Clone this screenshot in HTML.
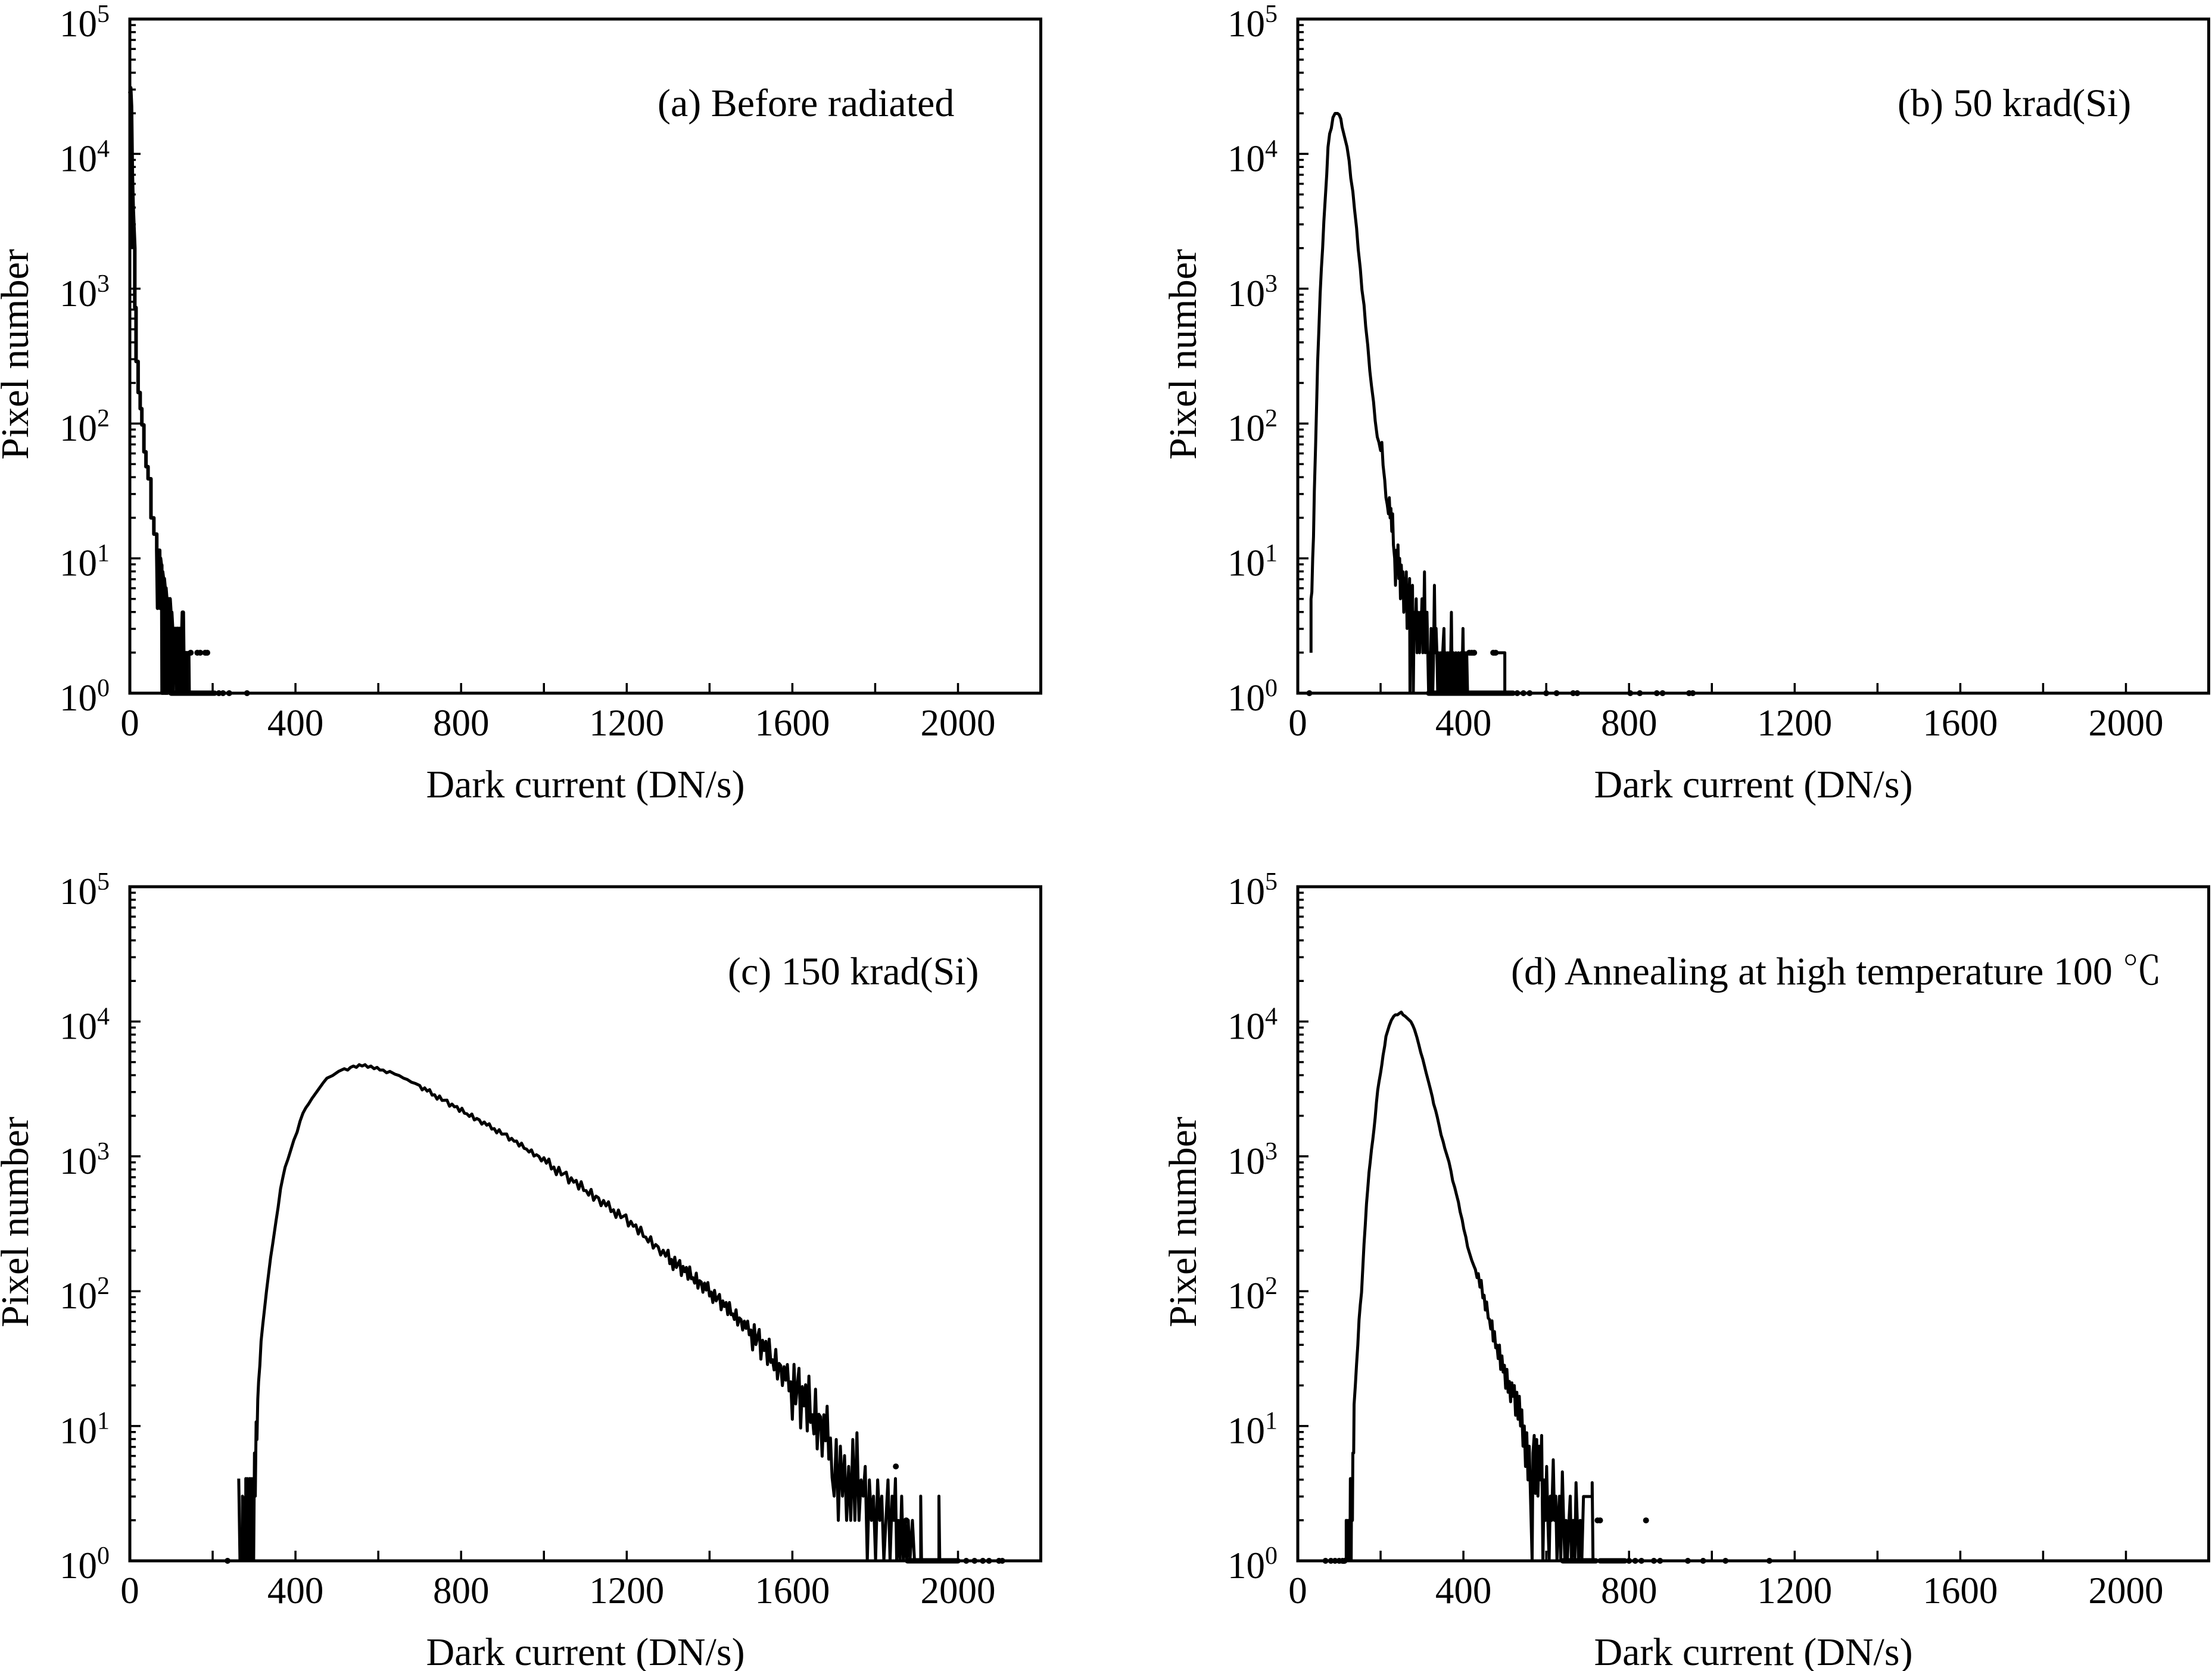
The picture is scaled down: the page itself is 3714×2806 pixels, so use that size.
<!DOCTYPE html>
<html>
<head>
<meta charset="utf-8">
<style>
html,body{margin:0;padding:0;background:#fff;}
svg{display:block;}
text{font-family:"Liberation Serif","Noto Serif CJK SC",serif;fill:#000;}
.d path{vector-effect:non-scaling-stroke;fill:none;stroke:#000;stroke-width:5;stroke-linejoin:round;stroke-linecap:butt;}
.d path.thk{stroke-width:6;}
.d path.fl{fill:#000;stroke-width:2;}
.d path.dt{stroke-width:10;stroke-linecap:round;}
.d path.bl{stroke-width:9;stroke-linecap:round;}
</style>
</head>
<body>
<svg width="3714" height="2806" viewBox="0 0 3714 2806" xmlns="http://www.w3.org/2000/svg">
<rect width="3714" height="2806" fill="#fff"/>
<defs>
<g id="dec" stroke="#000" stroke-width="3.5">
<line x1="0" x2="18" y1="0" y2="0"/>
<line x1="0" x2="10" y1="-68.15" y2="-68.15"/>
<line x1="0" x2="10" y1="-108.02" y2="-108.02"/>
<line x1="0" x2="10" y1="-136.31" y2="-136.31"/>
<line x1="0" x2="10" y1="-158.25" y2="-158.25"/>
<line x1="0" x2="10" y1="-176.17" y2="-176.17"/>
<line x1="0" x2="10" y1="-191.33" y2="-191.33"/>
<line x1="0" x2="10" y1="-204.46" y2="-204.46"/>
<line x1="0" x2="10" y1="-216.30" y2="-216.30"/>
</g>
<g id="ax">
<use href="#dec"/>
<use href="#dec" y="-226.4"/>
<use href="#dec" y="-452.8"/>
<use href="#dec" y="-679.2"/>
<use href="#dec" y="-905.6"/>
<path d="M139.05,0V-17M278.1,0V-17M417.15,0V-17M556.2,0V-17M695.25,0V-17M834.3,0V-17M973.35,0V-17M1112.4,0V-17M1251.45,0V-17M1390.5,0V-17" stroke="#000" stroke-width="3.5" fill="none"/>
<rect x="0" y="-1132" width="1529.5" height="1132" fill="none" stroke="#000" stroke-width="5"/>
</g>
</defs>

<!-- ============ Panel a ============ -->
<g class="d" transform="translate(218,1164) scale(0.69523,-226.4)">
<path class="fl" d="M0,4.45 L2,4.49 L4,4.35 L5,4.1 L6,3.85 L8,3.6 L10,3.45 L10,3.3 L0,3.3 Z"/>
<path class="thk" d="M0,4.45 L2,4.49 L4,4.35 L5,4.1 L6,3.85 L8,3.6 L10,3.45 L12,3.3 L12,2.86 L15,2.86 L15,2.46 L20,2.46 L20,2.23 L25,2.23 L25,2.11 L29,2.11 L29,1.99 L34,1.99 L34,1.79 L39,1.79 L39,1.68 L44,1.68 L44,1.59 L51,1.59 L51,1.30 L58,1.30 L58,1.18 L65,1.18 L65,1.06 L67,0.63 L68,1.06 L72,1.06 L73,0.63 L74,1.0 L76,0.95 L77,0.95 L78,0 L79,0.9 L81,0.85 L82,0 L83,0.85 L85,0.78 L86,0 L87,0.78 L89,0.7 L90,0 L91,0.7 L93,0.7 L95,0.6 L96,0 L97,0.7 L99,0.6 L100,0 L101,0.6 L103,0.48 L104,0 L105,0.48 L107,0.48 L108,0.3 L110,0.48 L112,0.3 L113,0 L114,0.48 L116,0.48 L117,0 L118,0.3 L120,0.48 L121,0 L122,0.3 L124,0.3 L125,0 L126,0.48 L127,0.6 L129,0.6 L130,0.3 L132,0.3 L133,0 L135,0.3 L137,0.3 L138,0 L140,0.3 L142,0.3 L143,0"/>
<path class="dt" d="M147,0.3h0.01 M163,0.3h0.01 M170,0.3h0.01 M182,0.3h0.01 M187,0.3h0.01"/>
<path class="bl" d="M100,0 L205,0"/>
<path class="dt" d="M215,0h0.01 M225,0h0.01 M240,0h0.01 M283,0h0.01"/>
</g>
<use href="#ax" x="218" y="1164"/>

<!-- ============ Panel b ============ -->
<g class="d" transform="translate(2179,1164) scale(0.69523,-226.4)">
<path d="M32,0.3 L32,0.7 L34,0.75 L36,1.0 L38,1.16 L40,1.5 L43,1.83 L46,2.2 L48,2.46 L51,2.7 L54,2.96 L57,3.15 L60,3.3 L63,3.5 L66,3.65 L70,3.85 L73,4.05 L77,4.15 L81,4.19 L85,4.27 L90,4.30 L96,4.30 L100,4.29 L104,4.26 L107,4.2 L111,4.15 L115,4.1 L119,4.05 L124,3.95 L128,3.82 L133,3.72 L137,3.59 L142,3.45 L146,3.29 L151,3.15 L155,2.99 L160,2.88 L164,2.72 L169,2.58 L174,2.39 L178,2.28 L183,2.16 L187,2.02 L192,1.90 L196,1.86 L200,1.80 L203,1.86 L206,1.69 L210,1.58 L213,1.45 L216,1.40 L219,1.33 L221,1.45 L223,1.30 L225,1.37 L227,1.20 L229,1.33 L231,1.1 L234,1.0 L236,0.8 L238,1.06 L240,0.9 L242,1.1 L244,0.85 L246,1.0 L248,0.7 L250,0.95 L252,0.8 L254,0.9 L256,0.6 L258,0.85 L260,0.7 L262,0.9 L264,0.48 L266,0.8 L268,0.6 L270,0.85 L271,0 L272,0.7 L275,0.48 L277,0.8 L279,0 L281,0.6 L284,0.48 L286,0.7 L288,0.3 L290,0.6 L292,0.48 L294,0.3 L296,0.6 L298,0.48 L300,0.7 L302,0.3 L304,0.48 L306,0.9 L308,0.3 L310,0.48 L312,0.6 L314,0.3 L316,0 L318,0.3 L320,0 L322,0.48 L324,0.3 L326,0 L328,0.3 L330,0.8 L332,0.3 L334,0.48 L336,0.3 L338,0 L340,0.3 L342,0 L345,0.3 L348,0 L350,0.3 L353,0.48 L355,0 L357,0.3 L360,0 L362,0.3 L364,0 L366,0.3 L368,0 L371,0.6 L373,0 L376,0.3 L378,0 L382,0.3 L384,0 L388,0.3 L390,0 L394,0.3 L396,0 L399,0.48 L401,0 L404,0.3 L406,0 L408,0.3 L410,0"/>
<path d="M480,0.3 L500,0.3 L500,0"/>
<path class="dt" d="M414,0.3h0.01 M420,0.3h0.01 M426,0.3h0.01 M472,0.3h0.01 M478,0.3h0.01"/>
<path class="bl" d="M316,0 L520,0"/>
<path class="dt" d="M28,0h0.01 M530,0h0.01 M545,0h0.01 M560,0h0.01 M600,0h0.01 M625,0h0.01 M665,0h0.01 M675,0h0.01 M803,0h0.01 M826,0h0.01 M867,0h0.01 M881,0h0.01 M945,0h0.01 M954,0h0.01"/>
</g>
<use href="#ax" x="2179" y="1164"/>

<!-- ============ Panel c ============ -->
<g class="d" transform="translate(218,2621) scale(0.69523,-226.4)">
<path d="M263,0.61 L266,0 M272,0 L272,0.48 L274,0 M277,0.48 L277,0 M280,0 L280,0.61 L282,0 L284,0.61 L286,0 M289,0 L289,0.61 L291,0 L293,0.61 L295,0"/>
<path d="M295,0 L297,0.61 L299,0 L301,0.8 L303,0.48 L305,1.03 L307,0.9 L309,1.2 L311,1.33 L314,1.45 L317,1.63 L321,1.75 L325,1.86 L330,2.0 L336,2.15 L340,2.25 L345,2.35 L353,2.52 L358,2.62 L364,2.76 L370,2.85 L375,2.92 L382,2.98 L389,3.05 L396,3.12 L404,3.18 L411,3.26 L418,3.32 L425,3.36 L432,3.39 L440,3.43 L447,3.46 L454,3.49 L461,3.52 L468,3.55 L476,3.58 L490,3.60 L504,3.63 L518,3.65 L526,3.64 L533,3.66 L540,3.67 L547,3.66 L554,3.68 L561,3.67 L568,3.68 L575,3.66 L582,3.67 L590,3.65 L597,3.66 L604,3.64 L612,3.64 L620,3.62 L628,3.63 L640,3.61 L650,3.60 L661,3.58 L670,3.57 L680,3.55 L690,3.54 L700,3.526 L706,3.493 L712,3.508 L718,3.484 L724,3.495 L730,3.454 L736,3.457 L742,3.424 L748,3.448 L754,3.415 L760,3.416 L766,3.417 L772,3.372 L778,3.388 L784,3.367 L790,3.370 L796,3.333 L802,3.357 L808,3.320 L814,3.316 L820,3.296 L826,3.314 L832,3.270 L838,3.281 L844,3.271 L850,3.239 L856,3.255 L862,3.231 L868,3.242 L874,3.202 L880,3.206 L886,3.174 L892,3.198 L898,3.165 L904,3.166 L910,3.166 L916,3.120 L922,3.134 L928,3.112 L934,3.114 L940,3.076 L946,3.098 L952,3.060 L958,3.054 L964,3.032 L970,3.048 L976,3.002 L982,3.012 L988,3.000 L994,2.966 L1000,2.99 L1006,2.949 L1012,2.980 L1018,2.906 L1024,2.921 L1030,2.864 L1036,2.919 L1042,2.862 L1048,2.872 L1054,2.883 L1060,2.802 L1066,2.841 L1072,2.808 L1078,2.822 L1084,2.757 L1090,2.812 L1096,2.747 L1102,2.746 L1108,2.712 L1114,2.755 L1120,2.674 L1126,2.705 L1132,2.692 L1138,2.634 L1144,2.673 L1150,2.632 L1156,2.663 L1162,2.590 L1168,2.604 L1174,2.547 L1180,2.602 L1186,2.545 L1192,2.556 L1198,2.566 L1204,2.483 L1210,2.518 L1216,2.481 L1222,2.492 L1228,2.424 L1234,2.475 L1240,2.406 L1246,2.401 L1252,2.364 L1258,2.404 L1264,2.319 L1270,2.346 L1276,2.329 L1282,2.268 L1288,2.304 L1294,2.259 L1300,2.304 L1304,2.204 L1308,2.236 L1312,2.160 L1316,2.252 L1320,2.176 L1324,2.202 L1328,2.228 L1332,2.116 L1336,2.184 L1340,2.144 L1344,2.176 L1348,2.088 L1352,2.180 L1356,2.092 L1360,2.100 L1364,2.060 L1368,2.134 L1372,2.022 L1376,2.078 L1380,2.068 L1384,1.992 L1388,2.060 L1392,2.008 L1396,2.064 L1400,1.964 L1404,1.994 L1408,1.916 L1412,2.006 L1416,1.928 L1420,1.952 L1424,1.976 L1428,1.862 L1432,1.928 L1436,1.886 L1440,1.916 L1444,1.826 L1448,1.916 L1452,1.826 L1456,1.832 L1460,1.790 L1464,1.862 L1468,1.748 L1472,1.802 L1476,1.790 L1480,1.712 L1484,1.778 L1488,1.724 L1492,1.778 L1496,1.676 L1500,1.712 L1504,1.564 L1508,1.752 L1512,1.604 L1516,1.660 L1520,1.716 L1524,1.496 L1528,1.636 L1532,1.560 L1536,1.628 L1540,1.456 L1544,1.644 L1548,1.472 L1552,1.492 L1556,1.416 L1560,1.568 L1564,1.348 L1568,1.464 L1572,1.448 L1576,1.300 L1580,1.440 L1584,1.340 L1588,1.456 L1592,1.260 L1596,1.328 L1600,1.05 L1604,1.457 L1608,1.164 L1612,1.296 L1616,1.428 L1620,0.985 L1624,1.292 L1628,1.149 L1632,1.306 L1636,0.963 L1640,1.370 L1644,1.027 L1648,1.084 L1652,0.941 L1656,1.273 L1660,0.830 L1664,1.087 L1668,1.069 L1672,0.776 L1676,1.083 L1680,0.890 L1684,1.147 L1688,0.754 L1692,0.911 L1696,0.618 L1701,0.48 L1706,0.9 L1711,0.3 L1716,0.85 L1721,0.48 L1726,0.78 L1731,0.3 L1736,0.7 L1741,0.3 L1746,0.9 L1751,0.3 L1756,0.95 L1761,0.3 L1766,0.6 L1771,0.48 L1776,0.7 L1781,0 L1786,0.6 L1791,0.3 L1796,0.48 L1801,0 L1806,0.6 L1811,0.3 L1816,0.48 L1821,0 L1826,0.3 L1831,0.6 L1836,0 L1841,0.48 L1845,0.3 L1849,0.61 L1852,0 L1856,0.3 L1860,0 L1864,0.48 L1868,0 L1872,0.3 L1876,0 L1880,0.3 L1884,0 L1890,0.3 L1895,0"/>
<path d="M1910,0 L1910,0.48 L1912,0 M1954,0 L1954,0.48 L1956,0"/>
<path class="dt" d="M1850,0.70h0.01 M1875,0.3h0.01"/>
<path class="bl" d="M1878,0 L2000,0"/>
<path class="dt" d="M236,0h0.01 M2020,0h0.01 M2040,0h0.01 M2060,0h0.01 M2075,0h0.01 M2099,0h0.01 M2107,0h0.01"/>
</g>
<use href="#ax" x="218" y="2621"/>

<!-- ============ Panel d ============ -->
<g class="d" transform="translate(2179,2621) scale(0.69523,-226.4)">
<path d="M117,0 L117,0.3 L119,0 L121,0.3 L123,0 L124,0.3 L126,0 L127,0.61 L129,0 L130,0.61 L132,0.3 L133,0.8 L135,0.8 L136,1.16 L139,1.3 L142,1.46 L145,1.6 L148,1.79 L151,1.9 L154,1.99 L158,2.23 L160,2.35 L163,2.49 L166,2.65 L169,2.76 L172,2.88 L175,2.96 L178,3.05 L181,3.12 L184,3.2 L187,3.29 L190,3.4 L193,3.49 L196,3.55 L200,3.62 L203,3.68 L206,3.75 L210,3.82 L213,3.89 L217,3.93 L221,3.97 L226,4.01 L232,4.04 L236,4.05 L241,4.05 L245,4.06 L250,4.07 L254,4.05 L259,4.04 L266,4.02 L273,4.0 L278,3.97 L282,3.94 L288,3.88 L293,3.82 L297,3.77 L302,3.72 L306,3.67 L310,3.62 L316,3.55 L321,3.49 L325,3.44 L328,3.39 L333,3.34 L337,3.29 L342,3.22 L346,3.16 L351,3.11 L355,3.06 L360,3.01 L365,2.96 L370,2.89 L374,2.82 L379,2.77 L383,2.72 L388,2.66 L392,2.59 L397,2.53 L401,2.46 L406,2.40 L410,2.33 L415,2.28 L420,2.23 L425,2.19 L429,2.16 L433,2.10 L436,2.13 L440,2.03 L443,2.08 L447,1.95 L450,1.97 L453,1.86 L456,1.92 L460,1.80 L463,1.79 L466,1.72 L469,1.78 L472,1.63 L475,1.70 L478,1.58 L481,1.60 L484,1.50 L487,1.60 L490,1.42 L493,1.52 L496,1.40 L499,1.45 L502,1.28 L505,1.42 L508,1.25 L511,1.33 L514,1.18 L517,1.32 L520,1.22 L523,1.30 L526,1.08 L529,1.25 L532,1.05 L535,1.22 L538,1.0 L541,1.12 L544,0.85 L547,1.0 L550,0.7 L553,0.95 L556,0.6 L559,0.85 L562,0.48 L566,0 L568,0.8 L571,0.93 L574,0.5 L577,0.9 L580,0.48 L583,0.85 L586,0.6 L589,0.93 L592,0 L595,0.6 L598,0.3 L601,0.7 L604,0.3 L607,0 L610,0.48 L613,0.3 L617,0.75 L620,0.3 L623,0.48 L626,0 L629,0.3 L632,0.48 L635,0 L639,0.66 L642,0.3 L645,0 L648,0.3 L651,0 L655,0.3 L658,0.48 L661,0 L665,0.3 L669,0 L672,0.58 L675,0.3 L678,0 L682,0.3 L686,0 L690,0.477 L711,0.477 L711,0.58 L713,0 L716,0"/>
<path class="dt" d="M724,0.3h0.01 M730,0.3h0.01 M841,0.3h0.01"/>
<path class="bl" d="M640,0 L720,0 M730,0 L790,0"/>
<path class="dt" d="M67,0h0.01 M80,0h0.01 M90,0h0.01 M100,0h0.01 M108,0h0.01 M113,0h0.01 M800,0h0.01 M815,0h0.01 M830,0h0.01 M860,0h0.01 M875,0h0.01 M942,0h0.01 M979,0h0.01 M1033,0h0.01 M1139,0h0.01"/>
</g>
<use href="#ax" x="2179" y="2621"/>

<!-- ============ Tick labels ============ -->
<g font-size="63" text-anchor="middle">
<text x="218" y="1235">0</text><text x="496.1" y="1235">400</text><text x="774.2" y="1235">800</text><text x="1052.3" y="1235">1200</text><text x="1330.4" y="1235">1600</text><text x="1608.5" y="1235">2000</text>
<text x="2179" y="1235">0</text><text x="2457.1" y="1235">400</text><text x="2735.2" y="1235">800</text><text x="3013.3" y="1235">1200</text><text x="3291.4" y="1235">1600</text><text x="3569.5" y="1235">2000</text>
<text x="218" y="2692">0</text><text x="496.1" y="2692">400</text><text x="774.2" y="2692">800</text><text x="1052.3" y="2692">1200</text><text x="1330.4" y="2692">1600</text><text x="1608.5" y="2692">2000</text>
<text x="2179" y="2692">0</text><text x="2457.1" y="2692">400</text><text x="2735.2" y="2692">800</text><text x="3013.3" y="2692">1200</text><text x="3291.4" y="2692">1600</text><text x="3569.5" y="2692">2000</text>
</g>
<g font-size="63">
<text x="100" y="1193">10<tspan font-size="42" dy="-24">0</tspan></text>
<text x="100" y="966.6">10<tspan font-size="42" dy="-24">1</tspan></text>
<text x="100" y="740.2">10<tspan font-size="42" dy="-24">2</tspan></text>
<text x="100" y="513.8">10<tspan font-size="42" dy="-24">3</tspan></text>
<text x="100" y="287.4">10<tspan font-size="42" dy="-24">4</tspan></text>
<text x="100" y="61">10<tspan font-size="42" dy="-24">5</tspan></text>
<text x="2061" y="1193">10<tspan font-size="42" dy="-24">0</tspan></text>
<text x="2061" y="966.6">10<tspan font-size="42" dy="-24">1</tspan></text>
<text x="2061" y="740.2">10<tspan font-size="42" dy="-24">2</tspan></text>
<text x="2061" y="513.8">10<tspan font-size="42" dy="-24">3</tspan></text>
<text x="2061" y="287.4">10<tspan font-size="42" dy="-24">4</tspan></text>
<text x="2061" y="61">10<tspan font-size="42" dy="-24">5</tspan></text>
<text x="100" y="2650">10<tspan font-size="42" dy="-24">0</tspan></text>
<text x="100" y="2423.6">10<tspan font-size="42" dy="-24">1</tspan></text>
<text x="100" y="2197.2">10<tspan font-size="42" dy="-24">2</tspan></text>
<text x="100" y="1970.8">10<tspan font-size="42" dy="-24">3</tspan></text>
<text x="100" y="1744.4">10<tspan font-size="42" dy="-24">4</tspan></text>
<text x="100" y="1518">10<tspan font-size="42" dy="-24">5</tspan></text>
<text x="2061" y="2650">10<tspan font-size="42" dy="-24">0</tspan></text>
<text x="2061" y="2423.6">10<tspan font-size="42" dy="-24">1</tspan></text>
<text x="2061" y="2197.2">10<tspan font-size="42" dy="-24">2</tspan></text>
<text x="2061" y="1970.8">10<tspan font-size="42" dy="-24">3</tspan></text>
<text x="2061" y="1744.4">10<tspan font-size="42" dy="-24">4</tspan></text>
<text x="2061" y="1518">10<tspan font-size="42" dy="-24">5</tspan></text>
</g>

<!-- ============ Axis labels ============ -->
<g font-size="66" text-anchor="middle">
<text x="983" y="1339">Dark current (DN/s)</text>
<text x="2944" y="1339">Dark current (DN/s)</text>
<text x="983" y="2796">Dark current (DN/s)</text>
<text x="2944" y="2796">Dark current (DN/s)</text>
<text transform="translate(47,595) rotate(-90)">Pixel number</text>
<text transform="translate(2008,595) rotate(-90)">Pixel number</text>
<text transform="translate(47,2052) rotate(-90)">Pixel number</text>
<text transform="translate(2008,2052) rotate(-90)">Pixel number</text>
</g>

<!-- ============ Annotations ============ -->
<g font-size="66">
<text x="1104" y="195">(a) Before radiated</text>
<text x="3186" y="195">(b) 50 krad(Si)</text>
<text x="1222" y="1653">(c) 150 krad(Si)</text>
<text x="2537" y="1653">(d) Annealing at high temperature 100 ℃</text>
</g>
</svg>
</body>
</html>
